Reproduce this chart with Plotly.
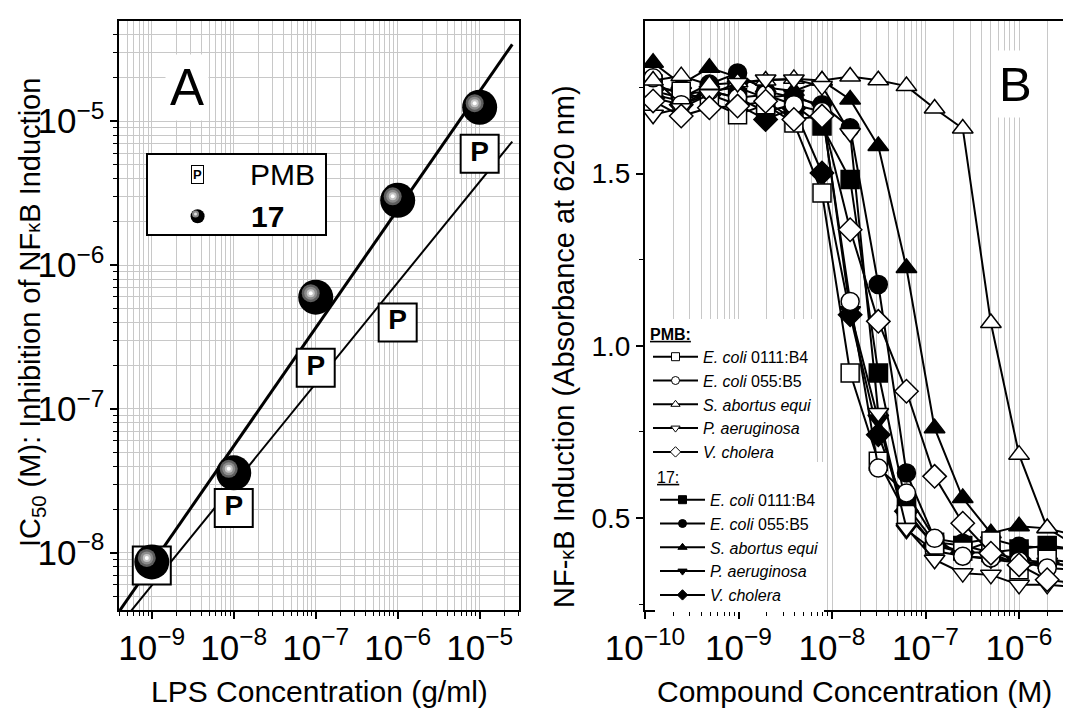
import numpy as np
import plotly.graph_objects as go

# ---------------- Panel A data ----------------
lps_conc = [1e-9, 1e-8, 1e-7, 1e-6, 1e-5]
ic50_pmb = [8.16e-9, 2.05e-8, 1.93e-7, 3.99e-7, 5.94e-6]
ic50_cpd17 = [8.65e-9, 3.60e-8, 5.98e-7, 2.82e-6, 1.25e-5]
fit_span = [3.2e-10, 2.5e-5]

# ---------------- Panel B data ----------------
compound_conc = [1.22e-10, 2.44e-10, 4.88e-10, 9.77e-10, 1.95e-9, 3.91e-9, 7.81e-9,
                 1.5625e-8, 3.125e-8, 6.25e-8, 1.25e-7, 2.5e-7, 5e-7, 1e-6, 2e-6, 4e-6]
series_names = ["<i>E. coli</i> 0111:B4", "<i>E. coli</i> 055:B5", "<i>S. abortus equi</i>",
                "<i>P. aeruginosa</i>", "<i>V. cholera</i>"]
series_symbols = ["square", "circle", "triangle-up", "triangle-down", "diamond"]

pmb_ecoli0111 = [1.75, 1.739, 1.71, 1.671, 1.70, 1.647, 1.444, 0.921, 0.665, 0.51, 0.422, 0.404, 0.433, 0.35, 0.38, 0.37]
pmb_ecoli055 = [1.778, 1.70, 1.74, 1.72, 1.729, 1.70, 1.68, 1.129, 0.645, 0.573, 0.441, 0.389, 0.384, 0.375, 0.355, 0.35]
pmb_sabortus = [1.77, 1.783, 1.758, 1.765, 1.77, 1.775, 1.77, 1.782, 1.771, 1.754, 1.689, 1.631, 1.066, 0.684, 0.471, 0.42]
pmb_paerug = [1.671, 1.69, 1.73, 1.763, 1.773, 1.773, 1.754, 1.618, 0.805, 0.471, 0.379, 0.340, 0.335, 0.306, 0.306, 0.30]
pmb_vchol = [1.711, 1.667, 1.691, 1.696, 1.71, 1.657, 1.667, 1.337, 1.071, 0.868, 0.621, 0.485, 0.398, 0.364, 0.321, 0.31]

c17_ecoli0111 = [1.76, 1.73, 1.74, 1.72, 1.68, 1.70, 1.638, 1.483, 0.921, 0.535, 0.43, 0.42, 0.40, 0.41, 0.42, 0.41]
c17_ecoli055 = [1.74, 1.72, 1.76, 1.792, 1.74, 1.72, 1.70, 1.633, 1.178, 0.631, 0.44, 0.427, 0.44, 0.418, 0.413, 0.41]
c17_sabortus = [1.822, 1.76, 1.807, 1.78, 1.75, 1.74, 1.77, 1.715, 1.58, 1.226, 0.761, 0.558, 0.456, 0.476, 0.47, 0.45]
c17_paerug = [1.73, 1.71, 1.74, 1.75, 1.72, 1.729, 1.69, 1.10, 0.786, 0.466, 0.404, 0.39, 0.38, 0.37, 0.37, 0.36]
c17_vchol = [1.72, 1.70, 1.73, 1.70, 1.657, 1.69, 1.502, 1.09, 0.742, 0.52, 0.42, 0.40, 0.40, 0.38, 0.37, 0.36]

pmb_series = [pmb_ecoli0111, pmb_ecoli055, pmb_sabortus, pmb_paerug, pmb_vchol]
c17_series = [c17_ecoli0111, c17_ecoli055, c17_sabortus, c17_paerug, c17_vchol]

# ---------------- layout geometry ----------------
W, H = 1071, 709
ML, MR, MT, MB = 111, 16, 13, 107
PW = W - ML - MR
PH = H - MT - MB
FONT = "Liberation Sans, Arial, Helvetica, sans-serif"
GRID = "#c8c8c8"

def px2x(px):
    return (px - ML) / PW

def py2y(py):
    return (H - MB - py) / PH

xA_range = [-9.40, -4.52]
yA_range = [-8.397, -4.304]
xB_range = [-10.0, -5.53]
yB_range = [0.233, 1.943]
xA_dom = [0.0, px2x(511)]
xB_dom = [px2x(637), 1.0]

fig = go.Figure()

# ---------------- Panel A ----------------
def fit_line(x, y):
    lx, ly = np.log10(x), np.log10(y)
    m, b = np.polyfit(lx, ly, 1)
    xs = np.log10(fit_span)
    return 10 ** xs, 10 ** (m * xs + b)

fx, fy = fit_line(lps_conc, ic50_pmb)
fig.add_trace(go.Scatter(x=fx, y=fy, mode="lines", line=dict(color="black", width=2),
                         xaxis="x", yaxis="y", showlegend=False, hoverinfo="skip"))
fx, fy = fit_line(lps_conc, ic50_cpd17)
fig.add_trace(go.Scatter(x=fx, y=fy, mode="lines", line=dict(color="black", width=3),
                         xaxis="x", yaxis="y", showlegend=False, hoverinfo="skip"))

fig.add_trace(go.Scatter(x=lps_conc, y=ic50_pmb, mode="markers+text", text=["<b>P</b>"] * 5,
                         textposition="middle center",
                         textfont=dict(family=FONT, size=28, color="black"),
                         marker=dict(symbol="square", size=38, color="white",
                                     line=dict(color="black", width=2)),
                         xaxis="x", yaxis="y", showlegend=False))
fig.add_trace(go.Scatter(x=lps_conc, y=ic50_cpd17, mode="markers",
                         marker=dict(symbol="circle", size=35, color="black", line=dict(width=0)),
                         xaxis="x", yaxis="y", showlegend=False))
# sphere highlights (on an overlay axis shifted a few pixels up-left)
for sz, col in [(18, "#5e5e5e"), (13, "#8c8c8c"), (8, "#c4c4c4"), (4, "#ffffff")]:
    fig.add_trace(go.Scatter(x=lps_conc, y=ic50_cpd17, mode="markers",
                             marker=dict(symbol="circle", size=sz, color=col, line=dict(width=0)),
                             xaxis="x3", yaxis="y3", showlegend=False, hoverinfo="skip"))

# ---------------- Panel B ----------------
for vals, sym in zip(c17_series, series_symbols):
    fig.add_trace(go.Scatter(x=compound_conc, y=vals, mode="lines+markers",
                             line=dict(color="black", width=2),
                             marker=dict(symbol=sym, size=18, color="black",
                                         line=dict(color="black", width=1.5)),
                             xaxis="x2", yaxis="y2", showlegend=False))
for vals, sym in zip(pmb_series, series_symbols):
    fig.add_trace(go.Scatter(x=compound_conc, y=vals, mode="lines+markers",
                             line=dict(color="black", width=2),
                             marker=dict(symbol=sym, size=18, color="white",
                                         line=dict(color="black", width=1.5)),
                             xaxis="x2", yaxis="y2", showlegend=False))

# legend entries (small symbols)
for name, sym in zip(series_names, series_symbols):
    fig.add_trace(go.Scatter(x=[None], y=[None], mode="lines+markers", name=name,
                             line=dict(color="black", width=2),
                             marker=dict(symbol=sym, size=8, color="white",
                                         line=dict(color="black", width=1)),
                             xaxis="x2", yaxis="y2", legend="legend"))
for name, sym in zip(series_names, series_symbols):
    fig.add_trace(go.Scatter(x=[None], y=[None], mode="lines+markers", name=name,
                             line=dict(color="black", width=2),
                             marker=dict(symbol=sym, size=8, color="black",
                                         line=dict(color="black", width=1)),
                             xaxis="x2", yaxis="y2", legend="legend2"))

axis_common = dict(showline=True, linecolor="black", linewidth=2, mirror=True,
                   ticks="outside", ticklen=7, tickwidth=1.5, tickcolor="black",
                   zeroline=False, tickfont=dict(family=FONT, size=28, color="black"))
log_common = dict(type="log", dtick=1, exponentformat="power", showexponent="all",
                  showgrid=True, gridcolor=GRID, gridwidth=1,
                  minor=dict(ticks="outside", ticklen=4, tickwidth=1, tickcolor="black",
                             showgrid=True, gridcolor=GRID, gridwidth=1))

# highlight offset: ~5 px left, ~4 px up
dxA = 5 / (PW * (xA_dom[1] - xA_dom[0])) * (xA_range[1] - xA_range[0])
dyA = 4 / PH * (yA_range[1] - yA_range[0])

LEG_FONT = 16
fig.update_layout(
    width=W, height=H,
    margin=dict(l=ML, r=MR, t=MT, b=MB),
    paper_bgcolor="white", plot_bgcolor="white",
    font=dict(family=FONT, color="black"),
    xaxis=dict(domain=xA_dom, range=xA_range, anchor="y", **axis_common, **log_common),
    yaxis=dict(domain=[0, 1], range=yA_range, anchor="x", **axis_common, **log_common),
    xaxis3=dict(type="log", range=[xA_range[0] + dxA, xA_range[1] + dxA], overlaying="x",
                anchor="y3", visible=False),
    yaxis3=dict(type="log", range=[yA_range[0] - dyA, yA_range[1] - dyA], overlaying="y",
                anchor="x3", visible=False),
    xaxis2=dict(domain=xB_dom, range=xB_range, anchor="y2", **axis_common, **log_common),
    yaxis2=dict(domain=[0, 1], range=yB_range, anchor="x2", dtick=0.5, tick0=0,
                tickformat=".1f", showgrid=False,
                minor=dict(dtick=0.25, ticks="outside", ticklen=4, tickwidth=1,
                           tickcolor="black", showgrid=False),
                **axis_common),
    legend=dict(x=px2x(640), y=py2y(311), xanchor="left", yanchor="top",
                bgcolor="white", borderwidth=0, itemwidth=45, tracegroupgap=0,
                font=dict(family=FONT, size=LEG_FONT, color="black"),
                title=dict(text="<b><u>PMB:</u></b>", font=dict(family=FONT, size=LEG_FONT))),
    legend2=dict(x=px2x(647), y=py2y(454), xanchor="left", yanchor="top",
                 bgcolor="white", borderwidth=0, itemwidth=45, tracegroupgap=0,
                 font=dict(family=FONT, size=LEG_FONT, color="black"),
                 title=dict(text="<u>17:</u>", font=dict(family=FONT, size=LEG_FONT))),
)

# ---------------- legend box of panel A ----------------
shapes = [
    dict(type="rect", xref="paper", yref="paper", x0=px2x(139), x1=px2x(318),
         y0=py2y(227), y1=py2y(146), line=dict(color="black", width=2), fillcolor="white",
         layer="above"),
    dict(type="circle", xref="paper", yref="paper", x0=px2x(182.6), x1=px2x(196.6),
         y0=py2y(215.3), y1=py2y(201.3), line=dict(width=0), fillcolor="black", layer="above"),
    dict(type="circle", xref="paper", yref="paper", x0=px2x(184), x1=px2x(191),
         y0=py2y(209.5), y1=py2y(202.5), line=dict(width=0), fillcolor="#8a8a8a", layer="above"),
    dict(type="circle", xref="paper", yref="paper", x0=px2x(186), x1=px2x(189),
         y0=py2y(207.5), y1=py2y(204.5), line=dict(width=0), fillcolor="#e0e0e0", layer="above"),
]
fig.update_layout(shapes=shapes)

def note(text, px, py, size, **kw):
    d = dict(text=text, x=px2x(px), y=py2y(py), xref="paper", yref="paper",
             xanchor=kw.pop("xanchor", "center"), yanchor=kw.pop("yanchor", "middle"),
             showarrow=False, font=dict(family=FONT, size=size, color="black"))
    d.update(kw)
    return d

ann = [
    note("<b>P</b>", 189.6, 166.7, 13, bgcolor="white", bordercolor="black",
         borderwidth=1, borderpad=1),
    note("PMB", 240, 166.7, 30, xanchor="left"),
    note("<b>17</b>", 241, 208.3, 30, xanchor="left"),
    note("A", 179, 80, 51, bgcolor="white", borderpad=4),
    note("B", 1007, 76, 49, bgcolor="white", borderpad=6),
    note("LPS Concentration (g/ml)", 311, 683, 30),
    note("Compound Concentration (M)", 846, 683, 30),
    note("IC<sub>50</sub> (M): Inhibition of NF<span style='font-size:20px'>κ</span>B Induction",
         24, 305, 29, textangle=-90),
    note("NF-<span style='font-size:20px'>κ</span>B Induction (Absorbance at 620 nm)",
         556, 339, 29, textangle=-90),
]
fig.update_layout(annotations=ann)

fig.write_html("out.html")
